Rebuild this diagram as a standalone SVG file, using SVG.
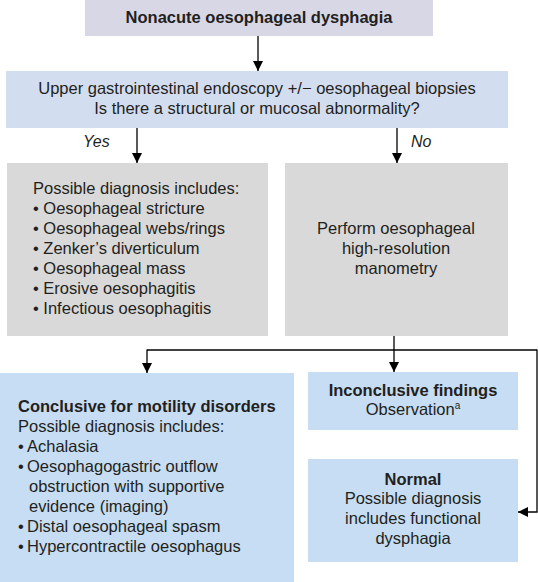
<svg xmlns="http://www.w3.org/2000/svg" width="538" height="582" viewBox="0 0 538 582">
<style>
text{font-family:"Liberation Sans",Arial,sans-serif;font-size:16.5px;fill:#231f20}
.b{font-weight:bold}
.c{text-anchor:middle}
.i{font-style:italic;font-size:16px}
.ln{stroke:#000;stroke-width:1.3;fill:none}
</style>
<defs>
<marker id="ah" viewBox="0 0 10 10" refX="10" refY="5" markerWidth="10" markerHeight="10" markerUnits="userSpaceOnUse" orient="auto">
<path d="M0,0 L10,5 L0,10 Z" fill="#000"/>
</marker>
</defs>
<g id="connectors">
<line class="ln" x1="258" y1="36" x2="258" y2="71" marker-end="url(#ah)"/>
<line class="ln" x1="137" y1="128" x2="137" y2="163" marker-end="url(#ah)"/>
<line class="ln" x1="397" y1="128" x2="397" y2="163" marker-end="url(#ah)"/>
<line class="ln" x1="394" y1="336" x2="394" y2="372" marker-end="url(#ah)"/>
<polyline class="ln" points="147,350 537,350"/>
<line class="ln" x1="147" y1="349.4" x2="147" y2="373" marker-end="url(#ah)"/>
<polyline class="ln" points="537,349.4 537,512 518,512" marker-end="url(#ah)"/>
<text class="i" x="83" y="147">Yes</text>
<text class="i" x="411" y="147">No</text>
</g>
<g id="start">
<rect x="85" y="0" width="348" height="36" fill="#d8d7e6"/>
<text class="b c" x="259" y="23">Nonacute oesophageal dysphagia</text>
</g>
<g id="endoscopy">
<rect x="6" y="71" width="502" height="57" fill="#d3ddf0"/>
<text class="c" x="257" y="94">Upper gastrointestinal endoscopy +/− oesophageal biopsies</text>
<text class="c" x="257" y="114">Is there a structural or mucosal abnormality?</text>
</g>
<g id="structural">
<rect x="7" y="163" width="261" height="173" fill="#d9d9d9"/>
<text x="33" y="194">Possible diagnosis includes:</text>
<text x="33" y="214">• Oesophageal stricture</text>
<text x="33" y="234">• Oesophageal webs/rings</text>
<text x="33" y="254">• Zenker’s diverticulum</text>
<text x="33" y="274">• Oesophageal mass</text>
<text x="33" y="294">• Erosive oesophagitis</text>
<text x="33" y="314">• Infectious oesophagitis</text>
</g>
<g id="manometry">
<rect x="285" y="163" width="223" height="173" fill="#d9d9d9"/>
<text class="c" x="396" y="234">Perform oesophageal</text>
<text class="c" x="396" y="254">high-resolution</text>
<text class="c" x="396" y="274">manometry</text>
</g>
<g id="conclusive">
<rect x="0" y="373" width="294" height="209" fill="#c6ddf3"/>
<text class="b" x="18" y="412">Conclusive for motility disorders</text>
<text x="18" y="432">Possible diagnosis includes:</text>
<text x="18" y="452">•<tspan x="27">Achalasia</tspan></text>
<text x="18" y="472">•<tspan x="27">Oesophagogastric outflow</tspan></text>
<text x="29" y="492">obstruction with supportive</text>
<text x="29" y="512">evidence (imaging)</text>
<text x="18" y="532">•<tspan x="27">Distal oesophageal spasm</tspan></text>
<text x="18" y="552">•<tspan x="27">Hypercontractile oesophagus</tspan></text>
</g>
<g id="inconclusive">
<rect x="308" y="372" width="210" height="58" fill="#c6ddf3"/>
<text class="b c" x="413" y="396">Inconclusive findings</text>
<text class="c" x="413" y="415">Observation<tspan font-size="10" dy="-6">a</tspan></text>
</g>
<g id="normal">
<rect x="308" y="459" width="210" height="103" fill="#c6ddf3"/>
<text class="b c" x="413" y="485">Normal</text>
<text class="c" x="413" y="504">Possible diagnosis</text>
<text class="c" x="413" y="524">includes functional</text>
<text class="c" x="413" y="544">dysphagia</text>
</g>
</svg>
